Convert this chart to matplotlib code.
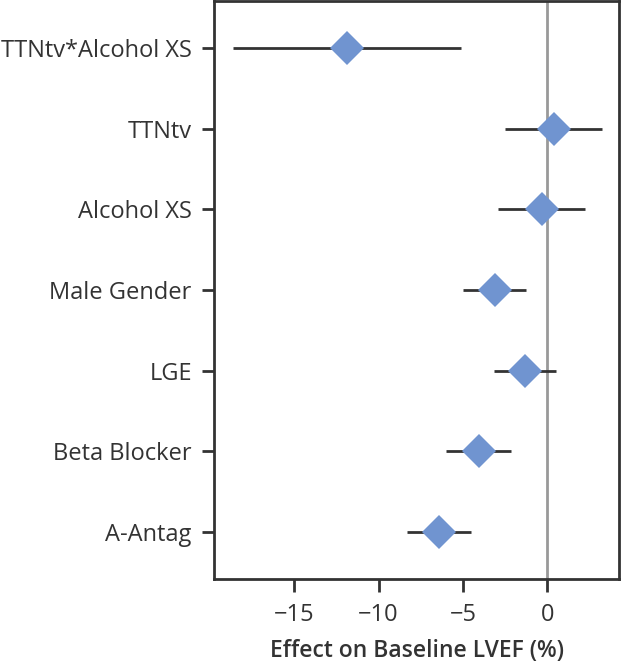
import numpy as np
import matplotlib.pyplot as plt

plt.rcParams['font.family'] = ['Open Sans', 'DejaVu Sans']

labels = ['TTNtv*Alcohol XS', 'TTNtv', 'Alcohol XS', 'Male Gender',
          'LGE', 'Beta Blocker', 'A-Antag']
effect = [-11.87, 0.37, -0.34, -3.12, -1.3, -4.07, -6.44]
ci_low = [-18.65, -2.52, -2.9, -4.98, -3.14, -6.0, -8.33]
ci_high = [-5.13, 3.25, 2.22, -1.26, 0.53, -2.13, -4.52]

dark = '#333333'
fig = plt.figure(figsize=(6.21, 6.63), dpi=100)
ax = fig.add_axes([0.3446, 0.1267, 0.6522, 0.8718])

y = np.arange(len(labels))[::-1]
ax.axvline(0, color='#999999', linewidth=2, zorder=1)
ax.hlines(y, ci_low, ci_high, color=dark, linewidth=2, zorder=2)
ax.plot(effect, y, 'D', color='#7094D0', markersize=17, markeredgewidth=0, zorder=3)

ax.set_xlim(-19.75, 4.25)
ax.set_ylim(-0.58, 6.58)
ax.set_xticks([-15, -10, -5, 0])
ax.set_yticks(y)
ax.set_yticklabels(labels)
ax.tick_params(axis='both', colors=dark, labelcolor=dark, labelsize=17,
               length=9, width=2)
ax.tick_params(axis='y', pad=7)
ax.tick_params(axis='x', pad=8)
for s in ax.spines.values():
    s.set_color(dark)
    s.set_linewidth(2)
ax.set_xlabel('Effect on Baseline LVEF (%)', fontsize=16.5, fontweight='semibold',
              color=dark, labelpad=9)

fig.savefig('out.png', dpi=100)
